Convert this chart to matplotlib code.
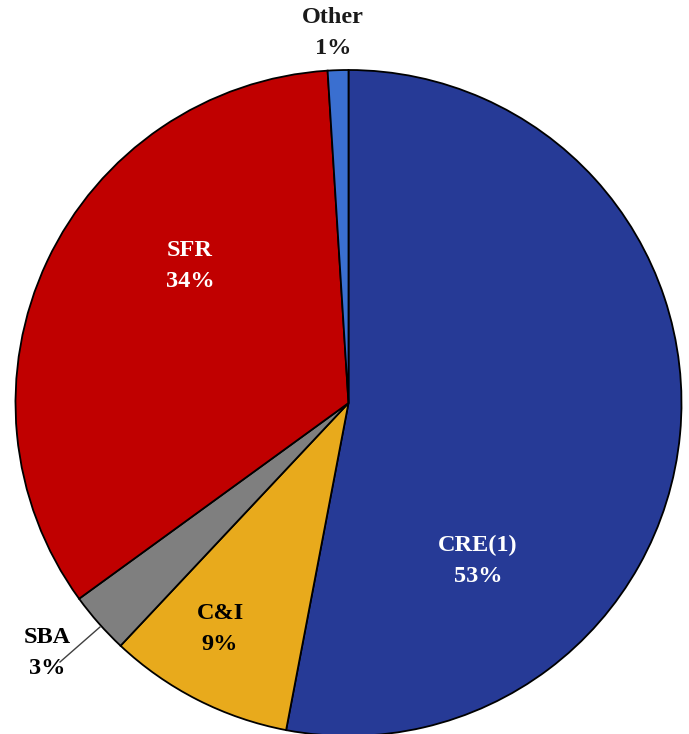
import matplotlib
matplotlib.use("Agg")
import matplotlib.pyplot as plt

# ---- data -------------------------------------------------------------------
categories = ["CRE(1)", "C&I", "SBA", "SFR", "Other"]
shares = [53, 9, 3, 34, 1]
colors = ["#263a96", "#e8aa1c", "#7f7f7f", "#c00000", "#3a6fd0"]
text_colors = ["white", "black", "black", "white", "#1a1a1a"]

# ---- layout (pixel coords, y up) ----------------------------------------------
W, H = 689, 734
CENTER = (348.5, H - 403)
RADIUS = 333
LABEL_POS = [(478, H - 561), (220, H - 629), (47, H - 653), (190, H - 266), (333, H - 33)]

fig = plt.figure(figsize=(W / 100, H / 100), dpi=100)
ax = fig.add_axes([0, 0, 1, 1])

ax.pie(shares, colors=colors, startangle=90, counterclock=False,
       center=CENTER, radius=RADIUS, frame=True,
       wedgeprops=dict(edgecolor="black", linewidth=1.3))
ax.set_xlim(0, W)
ax.set_ylim(0, H)
ax.set_aspect("equal")
ax.axis("off")

for cat, s, (x, y), tc in zip(categories, shares, LABEL_POS, text_colors):
    ax.text(x, y, f"{cat}\n{s}%", ha="center", va="center", color=tc,
            fontsize=17.5, fontweight="bold", family="Liberation Serif",
            linespacing=1.6)

# leader line for the thin SBA slice
ax.plot([100, 60], [H - 627, H - 662], color="#404040", lw=1)

fig.savefig("out.png", dpi=100, facecolor="white")
